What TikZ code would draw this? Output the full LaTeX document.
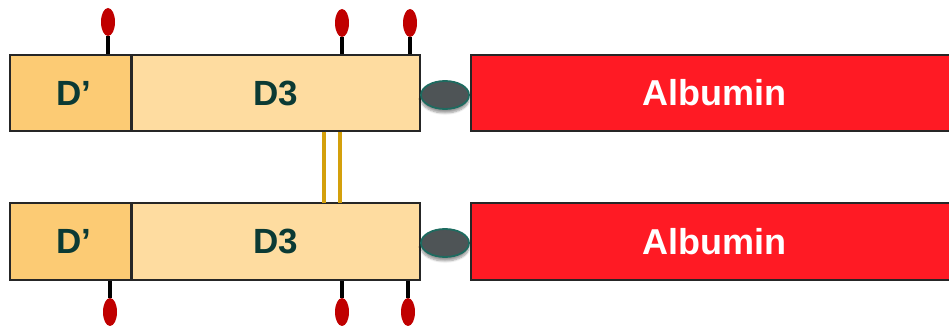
\documentclass[tikz,border=0pt]{standalone}
\usepackage{fontspec}
\setmainfont{Liberation Sans}
\usetikzlibrary{shapes.geometric,shadows.blur}
\definecolor{dprime}{HTML}{FCCB74}
\definecolor{dthree}{HTML}{FEDCA0}
\definecolor{domtext}{HTML}{0B3A34}
\definecolor{albred}{HTML}{FF1A24}
\definecolor{linkgray}{HTML}{4E5456}
\definecolor{linkedge}{HTML}{1E6B60}
\definecolor{glyco}{HTML}{C00000}
\definecolor{disulf}{HTML}{D4A00C}
\tikzset{
  dombox/.style={draw=black!85, line width=1.6pt, inner sep=0pt, font=\bfseries\fontsize{35}{40}\selectfont, text=domtext},
  albbox/.style={draw=black!85, line width=1.6pt, fill=albred, inner sep=0pt, font=\bfseries\fontsize{36}{40}\selectfont, text=white},
  linker/.style={ellipse, draw=linkedge, line width=1.8pt, fill=linkgray, minimum width=48pt, minimum height=28pt, inner sep=0pt, blur shadow={shadow xshift=0pt, shadow yshift=-4pt, shadow blur steps=6}},
  glycan/.style={ellipse, fill=glyco, minimum width=14pt, minimum height=28pt, inner sep=0pt},
  stem/.style={line width=3.5pt, black},
  bridge/.style={line width=4pt, disulf}
}
\begin{document}
\begin{tikzpicture}[x=1pt,y=-1pt]
\useasboundingbox (0,0) rectangle (949,326);
\begin{scope}
\clip (0,0) rectangle (949,326);
% glycan pins, upper chain
\node[glycan] (g1) at (108,22) {};
\node[glycan] (g2) at (342,23) {};
\node[glycan] (g3) at (410,23) {};
\coordinate (s1) at (108,55);
\coordinate (s2) at (342,55);
\coordinate (s3) at (410,55);
\draw[stem] (g1.south) -- (s1);
\draw[stem] (g2.south) -- (s2);
\draw[stem] (g3.south) -- (s3);
% glycan pins, lower chain
\node[glycan] (g4) at (110,312) {};
\node[glycan] (g5) at (342,312) {};
\node[glycan] (g6) at (408,312) {};
\coordinate (s4) at (110,280);
\coordinate (s5) at (342,280);
\coordinate (s6) at (408,280);
\draw[stem] (s4) -- (g4.north);
\draw[stem] (s5) -- (g5.north);
\draw[stem] (s6) -- (g6.north);
% upper chain
\node[dombox, fill=dprime, minimum width=121pt, minimum height=76pt] (dp1) at (70.5,93) {\hspace*{7pt}D’};
\node[dombox, fill=dthree, minimum width=288pt, minimum height=76pt] (d31) at (276,93) {D3};
\node[linker] (l1) at (445,95) {};
\node[albbox, minimum width=480pt, minimum height=76pt] (a1) at (711,93) {\hspace*{7pt}Albumin};
% lower chain
\node[dombox, fill=dprime, minimum width=121pt, minimum height=77pt] (dp2) at (70.5,241.5) {\hspace*{7pt}D’};
\node[dombox, fill=dthree, minimum width=288pt, minimum height=77pt] (d32) at (276,241.5) {D3};
\node[linker] (l2) at (445,243) {};
\node[albbox, minimum width=480pt, minimum height=77pt] (a2) at (711,241.5) {\hspace*{7pt}Albumin};
% disulfide bridges between the two D3 domains
\coordinate (b1t) at (324,131.5);
\coordinate (b1b) at (324,203);
\coordinate (b2t) at (340,131.5);
\coordinate (b2b) at (340,203);
\draw[bridge] (b1t) -- (b1b);
\draw[bridge] (b2t) -- (b2b);
\end{scope}
\end{tikzpicture}
\end{document}
